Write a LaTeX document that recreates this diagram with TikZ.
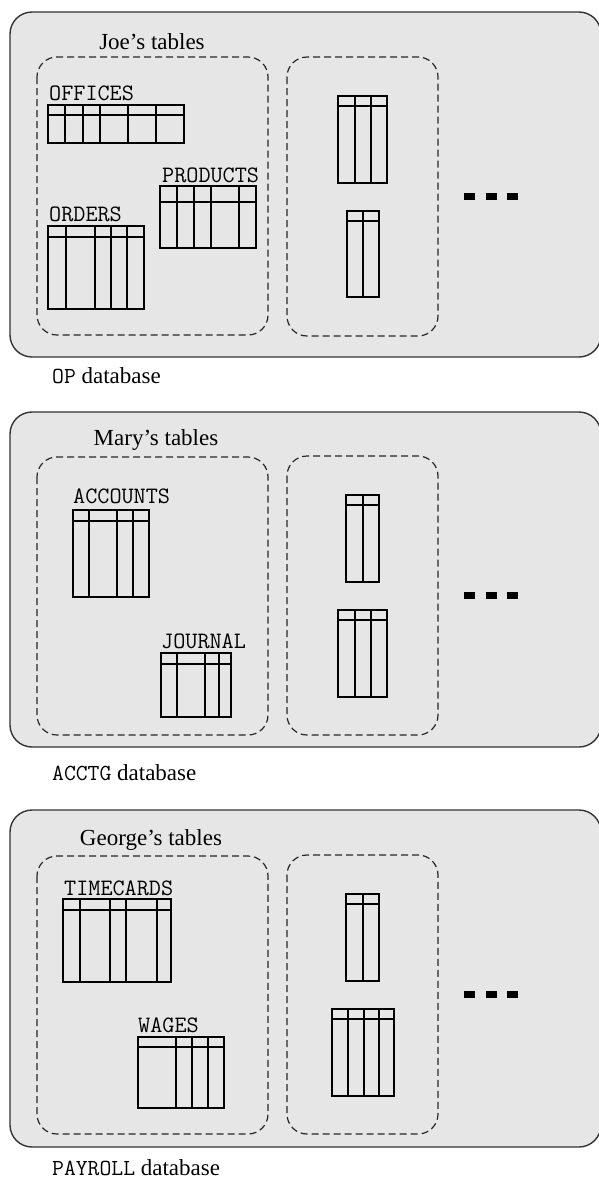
\documentclass[tikz,border=0pt]{standalone}
\usepackage{fontspec}
\setmainfont{Liberation Serif}
\usepackage{tikz}
\definecolor{panelgray}{HTML}{E6E6E6}
\definecolor{edgegray}{HTML}{333333}
\tikzset{
  dbpanel/.style ={rounded corners=22pt,draw=edgegray,line width=1.4pt,fill=panelgray},
  owner/.style   ={rounded corners=20pt,draw=black!85,line width=1.2pt,
                   dash pattern=on 7pt off 4pt},
  tabline/.style ={draw=black,line width=1.1pt},
  tname/.style   ={font=\ttfamily\fontsize{23.5}{26}\selectfont,inner sep=0pt,anchor=base west},
  ownlabel/.style={font=\fontsize{23}{26}\selectfont,inner sep=0pt},
  dblabel/.style ={font=\fontsize{23}{26}\selectfont,inner sep=0pt,anchor=base west},
  moredot/.style ={fill=black}
}
% table: x1 y1 x2 y2 header-y column-xs
\newcommand{\dbtab}[6]{%
  \draw[tabline] (#1,#2) rectangle (#3,#4);
  \draw[tabline] (#1,#5) -- (#3,#5);
  \foreach \cx in {#6} \draw[tabline] (\cx,#2) -- (\cx,#4);
}
\newcommand{\moredots}[1]{%
  \foreach \dx in {464,486,507} \fill[moredot] (\dx,#1) rectangle ++(10.5,7);
}

\begin{document}
\begin{tikzpicture}[x=1pt,y=-1pt]
  \useasboundingbox (0,0) rectangle (598,1181);

  % OP database
  \draw[dbpanel] (10,12) rectangle (601,357);
  \node[ownlabel] (joe) at (152,42) {Joe’s tables};
  \draw[owner] (37,57) rectangle (268,335);
  \draw[owner] (287,57) rectangle (438,336);
  \node[tname] (offices) at (49,100) {OFFICES};
  \dbtab{48}{105}{184}{143}{115}{65,83,100,128,156}
  \node[tname] (products) at (162,182) {PRODUCTS};
  \dbtab{160}{186}{256}{248}{202}{177,194,211,239}
  \node[tname] (orders) at (49,221) {ORDERS};
  \dbtab{48}{226}{144}{309}{237}{66,95,111,127}
  \dbtab{338}{96}{387}{183}{106}{355,371}
  \dbtab{347}{211}{379}{297}{221}{363}
  \moredots{193}
  \node[dblabel] (op) at (52,383) {\texttt{OP} database};

  % ACCTG database
  \draw[dbpanel] (10,412) rectangle (601,747);
  \node[ownlabel] (mary) at (156,440) {Mary’s tables};
  \draw[owner] (37,457) rectangle (268,735);
  \draw[owner] (287,456) rectangle (438,735);
  \node[tname] (accounts) at (73,503) {ACCOUNTS};
  \dbtab{73}{510}{149}{597}{521}{89,117,133}
  \node[tname] (journal) at (161,648) {JOURNAL};
  \dbtab{161}{653}{231}{717}{664}{177,205,219}
  \dbtab{346}{495}{379}{582}{505}{363}
  \dbtab{338}{610}{387}{697}{620}{355,371}
  \moredots{592}
  \node[dblabel] (acctg) at (52,780) {\texttt{ACCTG} database};

  % PAYROLL database
  \draw[dbpanel] (10,810) rectangle (601,1147);
  \node[ownlabel] (george) at (151,840) {George’s tables};
  \draw[owner] (37,856) rectangle (268,1134);
  \draw[owner] (287,855) rectangle (438,1134);
  \node[tname] (timecards) at (64,895) {TIMECARDS};
  \dbtab{63}{899}{171}{982}{910}{80,110,126,157}
  \node[tname] (wages) at (138,1032) {WAGES};
  \dbtab{138}{1037}{224}{1108}{1047}{176,192,208}
  \dbtab{346}{894}{379}{981}{904}{363}
  \dbtab{332}{1009}{394}{1096}{1019}{348,364,379}
  \moredots{991}
  \node[dblabel] (payroll) at (52,1175) {\texttt{PAYROLL} database};
\end{tikzpicture}
\end{document}
